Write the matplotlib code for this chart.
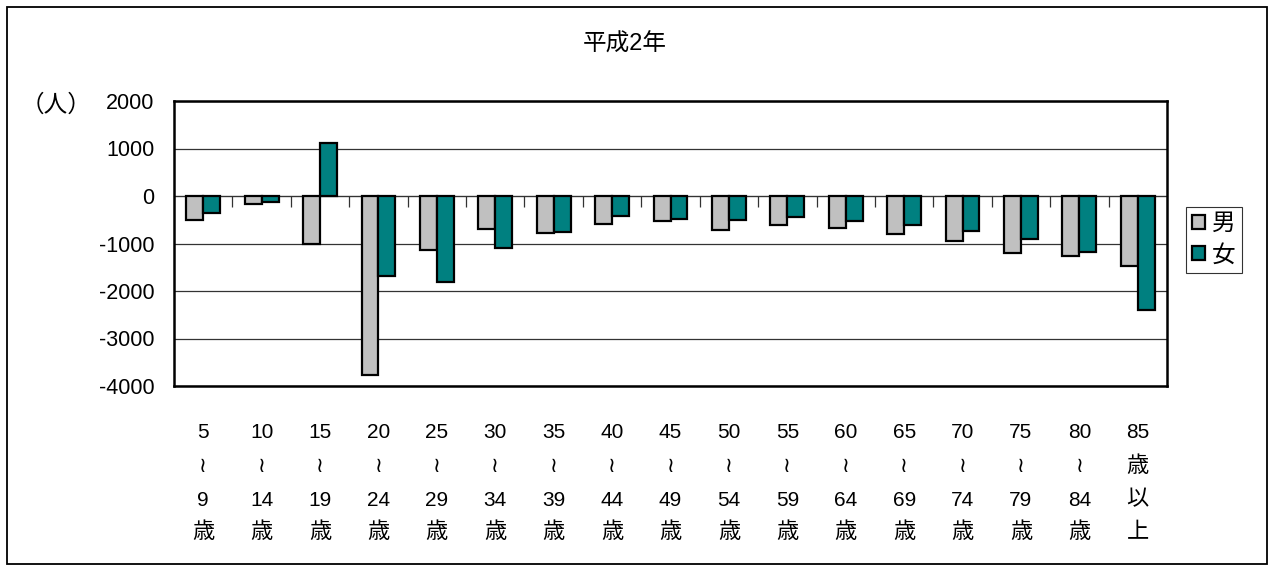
import matplotlib
matplotlib.use("Agg")
import matplotlib.pyplot as plt
import matplotlib.transforms as mtransforms
from matplotlib.patches import Rectangle
import numpy as np

plt.rcParams['font.family'] = ['Liberation Sans', 'Noto Sans CJK JP', 'DejaVu Sans']

# 年齢階級別の人口増減（平成2年）
age_labels = [
    "5\n≀\n9\n歳", "10\n≀\n14\n歳", "15\n≀\n19\n歳", "20\n≀\n24\n歳",
    "25\n≀\n29\n歳", "30\n≀\n34\n歳", "35\n≀\n39\n歳", "40\n≀\n44\n歳",
    "45\n≀\n49\n歳", "50\n≀\n54\n歳", "55\n≀\n59\n歳", "60\n≀\n64\n歳",
    "65\n≀\n69\n歳", "70\n≀\n74\n歳", "75\n≀\n79\n歳", "80\n≀\n84\n歳",
    "85\n歳\n以\n上",
]
male = [-500, -160, -1010, -3770, -1130, -690, -780, -590, -530, -710,
        -620, -670, -800, -950, -1190, -1260, -1470]
female = [-360, -130, 1110, -1690, -1800, -1100, -750, -430, -480, -510,
          -435, -520, -600, -745, -905, -1180, -2390]
yticks = [2000, 1000, 0, -1000, -2000, -3000, -4000]
title = "平成2年"
unit = "（人）"
series_names = ["男", "女"]

W, H = 1273, 566
fig = plt.figure(figsize=(W / 100, H / 100), dpi=100)
ax = fig.add_axes([174 / W, 1 - 386 / H, (1167 - 174) / W, (386 - 101) / H])

x = np.arange(len(age_labels))
bw = 0.29
ax.bar(x - bw / 2, male, bw, color="#C0C0C0", edgecolor="black", linewidth=1.6,
       label=series_names[0], zorder=3)
ax.bar(x + bw / 2, female, bw, color="#008080", edgecolor="black", linewidth=1.6,
       label=series_names[1], zorder=3)

ax.set_xlim(-0.5, len(age_labels) - 0.5)
ax.set_ylim(min(yticks), max(yticks))
ax.set_yticks(yticks)
ax.set_yticklabels([str(v) for v in yticks], fontsize=15.5)
ax.tick_params(axis="y", length=0, pad=14)
ax.set_xticks([])
ax.yaxis.grid(True, color="#333333", linewidth=0.9, zorder=0)
for s in ax.spines.values():
    s.set_linewidth(1.8)
    s.set_color("black")

# category axis crossing at zero, with divider ticks between age groups
zero_frac = (0 - min(yticks)) / (max(yticks) - min(yticks))
sec = ax.secondary_xaxis(zero_frac)
sec.set_xticks(x[:-1] + 0.5)
sec.set_xticklabels([])
sec.tick_params(axis="x", direction="in", length=8, width=0.9, color="#333333")
sec.spines["bottom"].set_color("#777777")
sec.spines["bottom"].set_linewidth(1.0)

# multi-line category labels below the plot
trans = mtransforms.blended_transform_factory(ax.transData, fig.transFigure)
line_y = [433, 467, 500, 533]
for xi, lab in zip(x, age_labels):
    for k, part in enumerate(lab.split("\n")):
        if part == "≀":
            fs = 15
        elif part.isdigit():
            fs = 15
        else:
            fs = 16
        ax.text(xi, 1 - line_y[k] / H, part, transform=trans, ha="center",
                va="center", fontsize=fs, clip_on=False)

fig.text(625 / W, 1 - 45 / H, title, ha="center", va="center", fontsize=17)
fig.text(56 / W, 1 - 105 / H, unit, ha="center", va="center", fontsize=17)

leg = fig.legend(loc="center", bbox_to_anchor=(1214 / W, 1 - 240 / H),
                 fontsize=17, frameon=True, fancybox=False, edgecolor="black",
                 handlelength=0.55, handleheight=0.55, handletextpad=0.3,
                 labelspacing=0.4, borderpad=0.25, borderaxespad=0)
leg.get_frame().set_linewidth(0.8)

fig.patches.append(Rectangle((7 / W, 1 - 564 / H), (1267 - 7) / W, (564 - 7) / H,
                             transform=fig.transFigure, fill=False,
                             edgecolor="black", linewidth=1.3))

fig.savefig("out.png", dpi=100)
